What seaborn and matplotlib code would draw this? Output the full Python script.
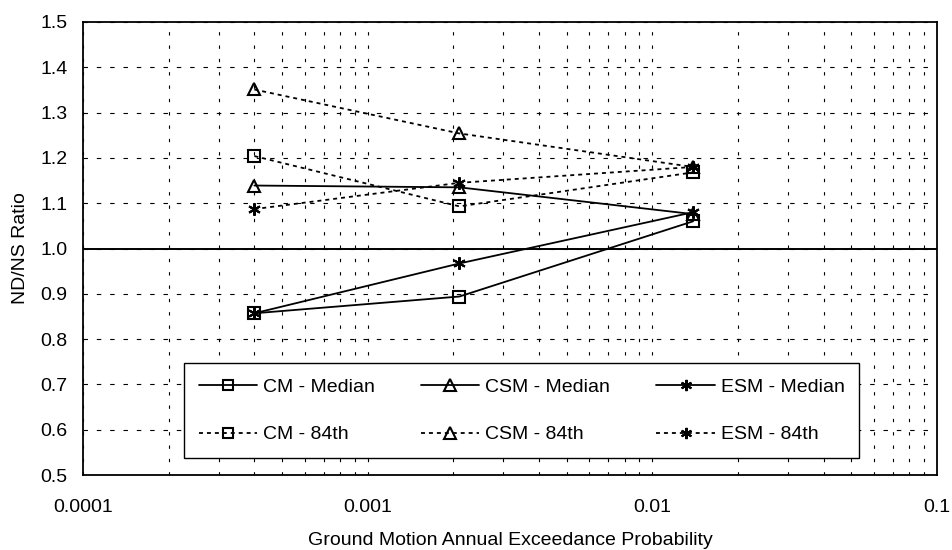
import matplotlib
matplotlib.use("Agg")
import matplotlib.pyplot as plt
import matplotlib.ticker as mticker
import seaborn as sns
import pandas as pd

# ---- data ----
prob = [0.0004, 0.0021, 0.0139]
cm_median = [0.857, 0.894, 1.060]
csm_median = [1.139, 1.135, 1.076]
esm_median = [0.857, 0.967, 1.080]
cm_84 = [1.204, 1.093, 1.168]
csm_84 = [1.351, 1.254, 1.180]
esm_84 = [1.087, 1.145, 1.180]
labels = ["CM - Median", "CM - 84th", "CSM - Median", "CSM - 84th", "ESM - Median", "ESM - 84th"]
series = [cm_median, cm_84, csm_median, csm_84, esm_median, esm_84]
xticks = [0.0001, 0.001, 0.01, 0.1]
xtick_labels = ["0.0001", "0.001", "0.01", "0.1"]
yticks = [0.5, 0.6, 0.7, 0.8, 0.9, 1.0, 1.1, 1.2, 1.3, 1.4, 1.5]

sns.set_theme(style="white")
plt.rcParams['font.family'] = ['Liberation Sans', 'DejaVu Sans']

fig = plt.figure(figsize=(9.52, 5.5), dpi=100)
ax = fig.add_axes([83/952, 75/550, (937-83)/952, 453/550])
ax.set_xscale('log')

markers = ['s', 's', '^', '^', (6, 2, 0), (6, 2, 0)]
styles = ['-', (0, (2.2, 2.2)), '-', (0, (2.2, 2.2)), '-', (0, (2.2, 2.2))]
df = pd.DataFrame({'x': prob * len(series),
                   'y': sum(series, []),
                   'series': [l for l in labels for _ in prob]})
for lab, mk, ls in zip(labels, markers, styles):
    d = df[df['series'] == lab]
    sns.lineplot(data=d, x='x', y='y', ax=ax, color='black', linewidth=1.3,
                 linestyle=ls, marker=mk, markersize=9 if mk != 's' else 8.2,
                 markerfacecolor='none', markeredgecolor='black',
                 markeredgewidth=1.5, label=lab, zorder=3)

ax.set_xlim(0.0001, 0.1)
ax.set_ylim(0.5, 1.5)
ax.set_yticks(yticks)
ax.yaxis.set_major_formatter(mticker.FormatStrFormatter('%.1f'))
ax.set_xticks(xticks)
ax.set_xticklabels(xtick_labels)
ax.xaxis.set_minor_locator(mticker.LogLocator(base=10, subs=range(2, 10)))
ax.xaxis.set_minor_formatter(mticker.NullFormatter())
ax.tick_params(axis='both', which='both', length=0, labelsize=14, colors='black')
ax.tick_params(axis='y', pad=11)
ax.tick_params(axis='x', pad=17)

ax.grid(True, axis='y', which='major', color='black', linestyle=(0, (4, 8)), linewidth=0.8)
ax.grid(True, axis='x', which='both', color='black', linestyle=(0, (3, 9)), linewidth=0.8)
ax.axhline(1.0, color='black', linewidth=1.4, zorder=2)

for s in ax.spines.values():
    s.set_color('black')
    s.set_linewidth(1.3)

ax.set_xlabel('Ground Motion Annual Exceedance Probability', fontsize=14, color='black', labelpad=12)
ax.set_ylabel('ND/NS Ratio', fontsize=14, color='black', labelpad=8)

leg = ax.legend(ncol=3, loc='lower left',
                bbox_to_anchor=((184-83)/854, (475-458)/453, (859-184)/854, (458-357)/453),
                mode='expand', frameon=True, fancybox=False, fontsize=14, handlelength=3.0,
                labelspacing=1.55, borderpad=0.75, handletextpad=0.3, columnspacing=1.0,
                borderaxespad=0, framealpha=1, markerscale=0.9)
leg.get_frame().set_edgecolor('black')
leg.get_frame().set_linewidth(1.0)
for t in leg.get_texts():
    t.set_color('black')

fig.savefig('out.png', dpi=100)
